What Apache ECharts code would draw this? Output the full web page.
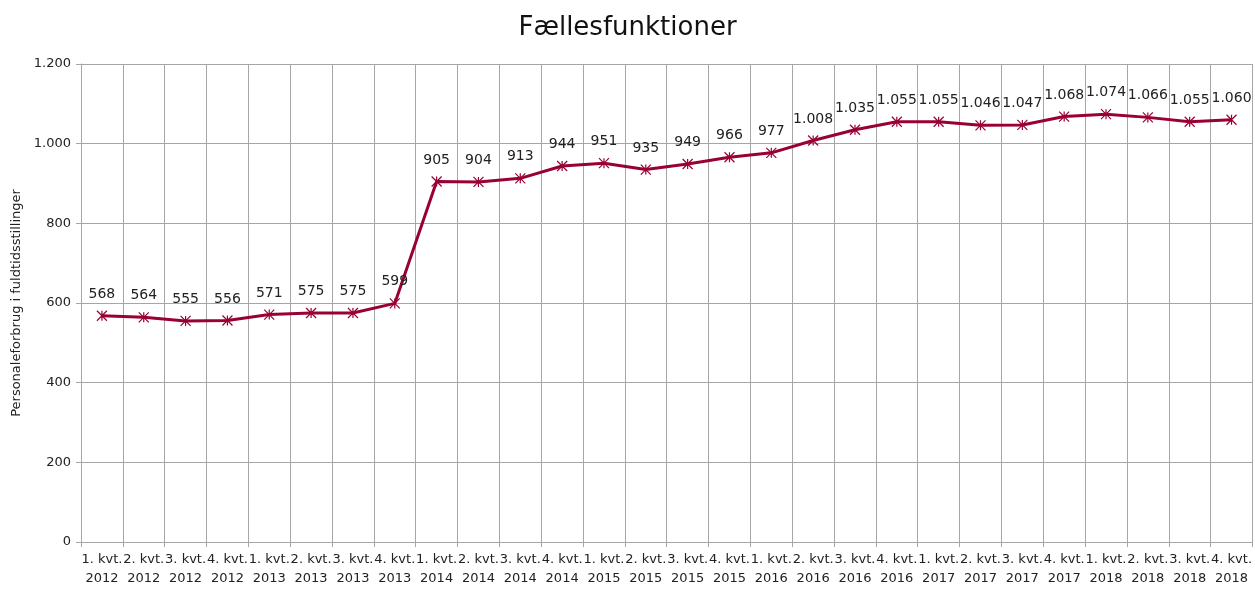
<!DOCTYPE html>
<html lang="da">
<head>
  <meta charset="UTF-8">
  <title>Fællesfunktioner</title>
  <script src="https://cdn.jsdelivr.net/npm/echarts@6/dist/echarts.min.js"></script>
  <style>
    html, body { margin: 0; padding: 0; background: #fff; }
  </style>
</head>
<body>
<div id="main" style="width: 1255px;height:589px;"></div>
<script type="text/javascript">
  // kvartaler og år
  var quarters = ['1. kvt.', '2. kvt.', '3. kvt.', '4. kvt.'];
  var years = ['2012', '2013', '2014', '2015', '2016', '2017', '2018'];
  // personaleforbrug pr. kvartal
  var values = [568, 564, 555, 556, 571, 575, 575, 599,
    905, 904, 913, 944, 951, 935, 949, 966,
    977, 1008, 1035, 1055, 1055, 1046, 1047, 1068,
    1074, 1066, 1055, 1060];
  var yTicks = [0, 200, 400, 600, 800, 1000, 1200];

  var categories = [];
  for (var y = 0; y < years.length; y++) {
    for (var q = 0; q < quarters.length; q++) {
      categories.push(quarters[q] + '\n' + years[y]);
    }
  }

  function fmt(v) {
    return String(v).replace(/\B(?=(\d{3})+(?!\d))/g, '.');
  }

  var lineColor = '#990033';
  var gridColor = '#a6a6a6';
  var font = 'DejaVu Sans';

  var myChart = echarts.init(document.getElementById('main'));
  var option = {
    animation: false,
    title: {
      text: 'Fællesfunktioner',
      left: 'center',
      top: 10,
      textStyle: { fontFamily: font, fontSize: 26, fontWeight: 'normal', color: '#111' }
    },
    grid: { left: 81, right: 2, top: 64, bottom: 47 },
    xAxis: {
      type: 'category',
      data: categories,
      boundaryGap: true,
      axisLine: { lineStyle: { color: gridColor } },
      axisTick: { show: true, length: 5, lineStyle: { color: gridColor } },
      splitLine: { show: true, lineStyle: { color: gridColor } },
      axisLabel: {
        interval: 0, color: '#222', fontFamily: font, fontSize: 13,
        lineHeight: 19, margin: 8
      }
    },
    yAxis: {
      type: 'value',
      min: yTicks[0],
      max: yTicks[yTicks.length - 1],
      interval: 200,
      name: 'Personaleforbrug i fuldtidsstillinger',
      nameLocation: 'middle',
      nameGap: 57,
      nameTextStyle: { fontFamily: font, fontSize: 13, color: '#222' },
      axisLine: { show: true, lineStyle: { color: gridColor } },
      axisTick: { show: true, length: 5, lineStyle: { color: gridColor } },
      splitLine: { show: true, lineStyle: { color: gridColor } },
      axisLabel: {
        color: '#222', fontFamily: font, fontSize: 13, margin: 10,
        formatter: function (v) { return fmt(v); }
      }
    },
    series: [
      {
        type: 'line',
        data: values,
        symbol: 'path://M0,0L10,10M10,0L0,10M5,0L5,10',
        symbolSize: 10,
        showAllSymbol: true,
        lineStyle: { color: lineColor, width: 3 },
        itemStyle: { color: lineColor, borderColor: lineColor, borderWidth: 1.2 },
        label: {
          show: true,
          position: 'top',
          distance: 9,
          color: '#222',
          fontFamily: font,
          fontSize: 14,
          formatter: function (p) { return fmt(p.value); }
        }
      }
    ]
  };
  myChart.setOption(option);
</script>
</body>
</html>
